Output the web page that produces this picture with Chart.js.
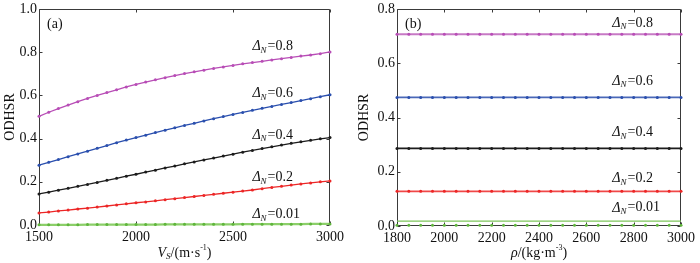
<!DOCTYPE html>
<html>
<head>
<meta charset="utf-8">
<script src="https://cdn.jsdelivr.net/npm/chart.js@4.4.1/dist/chart.umd.min.js"></script>
<style>
  html, body { margin: 0; padding: 0; background: #fff; }
  #wrap { position: relative; width: 700px; height: 263px; }
  canvas { position: absolute; top: 0; }
  #chartA { left: 0; }
  #chartB { left: 350px; }
</style>
</head>
<body>
<div id="wrap">
  <canvas id="chartA" width="350" height="263"></canvas>
  <canvas id="chartB" width="350" height="263"></canvas>
</div>
<script>
const FONT = "'Liberation Serif', 'Times New Roman', 'DejaVu Serif', serif";

// panel (a): ODHSR against S-wave velocity
const vs = [1500, 1550, 1600, 1650, 1700, 1750, 1800, 1850, 1900, 1950, 2000, 2050, 2100, 2150, 2200, 2250,
            2300, 2350, 2400, 2450, 2500, 2550, 2600, 2650, 2700, 2750, 2800, 2850, 2900, 2950, 3000];
const a08 = [0.503, 0.522, 0.539, 0.555, 0.571, 0.586, 0.600, 0.613, 0.626, 0.639, 0.651, 0.662, 0.672, 0.682, 0.692, 0.701,
             0.709, 0.717, 0.725, 0.732, 0.739, 0.746, 0.752, 0.758, 0.764, 0.770, 0.776, 0.782, 0.787, 0.793, 0.801];
const a06 = [0.277, 0.290, 0.303, 0.316, 0.329, 0.342, 0.355, 0.368, 0.381, 0.393, 0.405, 0.416, 0.428, 0.439, 0.450, 0.461,
             0.471, 0.482, 0.492, 0.502, 0.512, 0.521, 0.531, 0.540, 0.549, 0.558, 0.567, 0.576, 0.585, 0.594, 0.603];
const a04 = [0.144, 0.152, 0.161, 0.170, 0.179, 0.188, 0.197, 0.207, 0.216, 0.226, 0.235, 0.245, 0.254, 0.264, 0.273, 0.283,
             0.292, 0.301, 0.310, 0.319, 0.328, 0.337, 0.345, 0.354, 0.362, 0.370, 0.378, 0.385, 0.392, 0.399, 0.405];
const a02 = [0.056, 0.060, 0.065, 0.069, 0.074, 0.078, 0.083, 0.088, 0.093, 0.098, 0.103, 0.107, 0.112, 0.117, 0.122, 0.127,
             0.132, 0.137, 0.142, 0.147, 0.152, 0.157, 0.162, 0.168, 0.174, 0.179, 0.185, 0.190, 0.195, 0.200, 0.204];
const a001 = [0.001, 0.001, 0.001, 0.001, 0.001, 0.002, 0.002, 0.002, 0.002, 0.002, 0.002, 0.002, 0.002, 0.003, 0.003, 0.003,
              0.003, 0.003, 0.003, 0.003, 0.003, 0.004, 0.004, 0.004, 0.004, 0.004, 0.004, 0.004, 0.005, 0.005, 0.005];

// panel (b): ODHSR against density (flat lines)
const rho = [1800, 1850, 1900, 1950, 2000, 2050, 2100, 2150, 2200, 2250, 2300, 2350, 2400,
             2450, 2500, 2550, 2600, 2650, 2700, 2750, 2800, 2850, 2900, 2950, 3000];
const b08 = [0.707, 0.707, 0.707, 0.707, 0.707, 0.707, 0.707, 0.707, 0.707, 0.707, 0.707, 0.707, 0.707,
             0.707, 0.707, 0.707, 0.707, 0.707, 0.707, 0.707, 0.707, 0.707, 0.707, 0.707, 0.707];
const b06 = [0.474, 0.474, 0.474, 0.474, 0.474, 0.474, 0.474, 0.474, 0.474, 0.474, 0.474, 0.474, 0.474,
             0.474, 0.474, 0.474, 0.474, 0.474, 0.474, 0.474, 0.474, 0.474, 0.474, 0.474, 0.474];
const b04 = [0.286, 0.286, 0.286, 0.286, 0.286, 0.286, 0.286, 0.286, 0.286, 0.286, 0.286, 0.286, 0.286,
             0.286, 0.286, 0.286, 0.286, 0.286, 0.286, 0.286, 0.286, 0.286, 0.286, 0.286, 0.286];
const b02 = [0.128, 0.128, 0.128, 0.128, 0.128, 0.128, 0.128, 0.128, 0.128, 0.128, 0.128, 0.128, 0.128,
             0.128, 0.128, 0.128, 0.128, 0.128, 0.128, 0.128, 0.128, 0.128, 0.128, 0.128, 0.128];
const b001Line = [0.018, 0.018, 0.018, 0.018, 0.018, 0.018, 0.018, 0.018, 0.018, 0.018, 0.018, 0.018, 0.018,
                  0.018, 0.018, 0.018, 0.018, 0.018, 0.018, 0.018, 0.018, 0.018, 0.018, 0.018, 0.018];
const b001Marks = [0.003, 0.003, 0.003, 0.003, 0.003, 0.003, 0.003, 0.003, 0.003, 0.003, 0.003, 0.003, 0.003,
                   0.003, 0.003, 0.003, 0.003, 0.003, 0.003, 0.003, 0.003, 0.003, 0.003, 0.003, 0.003];

const deltaValues = ['0.8', '0.6', '0.4', '0.2', '0.01'];
const colors = ['#b84db6', '#2a4fae', '#1c1c1c', '#ec2626', '#5fb53c'];

function pts(xs, ys) {
    return xs.map((x, i) => ({ x: x, y: ys[i] }));
}

function series(xs, ys, color, extra) {
    return Object.assign({
        data: pts(xs, ys),
        borderColor: color,
        backgroundColor: color,
        borderWidth: 1.3,
        pointRadius: 1.5,
        pointBorderWidth: 0,
        pointHoverRadius: 0,
        tension: 0,
        clip: 4
    }, extra || {});
}

// frame with inward ticks on all four sides (drawn under the lines)
const framePlugin = {
    id: 'frame',
    beforeDatasetsDraw(chart) {
        const { ctx, chartArea: a, scales: { x, y } } = chart;
        const L = Math.round(a.left) + 0.5, R = Math.round(a.right) - 0.5;
        const T = Math.round(a.top) + 0.5, B = Math.round(a.bottom) - 0.5;
        ctx.save();
        ctx.strokeStyle = '#3a3a3a';
        ctx.lineWidth = 1;
        ctx.beginPath();
        ctx.rect(L, T, R - L, B - T);
        x.ticks.forEach(t => {
            const p = Math.round(x.getPixelForValue(t.value)) + 0.5;
            ctx.moveTo(p, B); ctx.lineTo(p, B - 3);
            ctx.moveTo(p, T); ctx.lineTo(p, T + 3);
        });
        y.ticks.forEach(t => {
            const p = Math.round(y.getPixelForValue(t.value)) + 0.5;
            ctx.moveTo(L, p); ctx.lineTo(L + 3, p);
            ctx.moveTo(R, p); ctx.lineTo(R - 3, p);
        });
        ctx.stroke();
        ctx.restore();
    }
};

function drawParts(ctx, parts, cx, cy) {
    let total = 0;
    parts.forEach(p => {
        ctx.font = (p.it ? 'italic ' : '') + p.size + 'px ' + FONT;
        p.w = ctx.measureText(p.t).width;
        total += p.w;
    });
    let x = cx - total / 2;
    ctx.textAlign = 'left';
    ctx.textBaseline = 'middle';
    parts.forEach(p => {
        ctx.font = (p.it ? 'italic ' : '') + p.size + 'px ' + FONT;
        ctx.fillText(p.t, x, cy + (p.dy || 0));
        x += p.w;
    });
}

// panel letter, ΔN labels and the x-axis title
const notesPlugin = {
    id: 'notes',
    afterDraw(chart, args, opts) {
        const { ctx, chartArea: a, scales: { x, y } } = chart;
        ctx.save();
        ctx.fillStyle = '#111';
        ctx.textBaseline = 'middle';
        ctx.textAlign = 'left';
        ctx.font = '14px ' + FONT;
        ctx.fillText(opts.letter, a.left + 8, a.top + 15);

        deltaValues.forEach((v, i) => {
            const px = x.getPixelForValue(opts.labelX);
            const py = y.getPixelForValue(opts.labelY[i]);
            ctx.font = 'italic 14px ' + FONT;
            ctx.fillText('Δ', px, py);
            let w = ctx.measureText('Δ').width;
            ctx.font = 'italic 9px ' + FONT;
            ctx.fillText('N', px + w, py + 4);
            w += ctx.measureText('N').width + 1;
            ctx.font = '14px ' + FONT;
            ctx.fillText('=' + v, px + w, py);
        });

        drawParts(ctx, opts.xTitle, (a.left + a.right) / 2, 253);
        ctx.restore();
    }
};

function makeChart(id, datasets, xs, ys, notes) {
    return new Chart(document.getElementById(id), {
        type: 'line',
        data: { datasets: datasets },
        plugins: [framePlugin, notesPlugin],
        options: {
            responsive: false,
            animation: false,
            devicePixelRatio: 1,
            layout: { padding: notes.padding },
            plugins: { legend: { display: false }, tooltip: { enabled: false }, notes: notes },
            scales: {
                x: {
                    type: 'linear',
                    min: xs.min, max: xs.max,
                    grid: { display: false, drawTicks: false },
                    border: { display: false },
                    ticks: { stepSize: xs.step, padding: 5, maxRotation: 0, color: '#111',
                             font: { family: FONT, size: 14, lineHeight: 1 },
                             callback: v => String(v) },
                    afterFit: s => { s.height = notes.xHeight; }
                },
                y: {
                    min: 0, max: ys.max,
                    grid: { display: false, drawTicks: false },
                    border: { display: false },
                    ticks: { stepSize: 0.2, padding: 2, color: '#111',
                             font: { family: FONT, size: 14, lineHeight: 1 },
                             callback: v => v.toFixed(1) },
                    title: { display: true, text: 'ODHSR', color: '#111',
                             font: { family: FONT, size: 14 }, padding: { top: notes.titlePad, bottom: 0 } },
                    afterFit: s => { s.width = notes.yWidth; }
                }
            }
        }
    });
}

function build() {
    makeChart('chartA', [
        series(vs, a08, colors[0]),
        series(vs, a06, colors[1]),
        series(vs, a04, colors[2]),
        series(vs, a02, colors[3]),
        series(vs, a001, '#8ccf6a', { borderWidth: 2.2, pointBackgroundColor: colors[4] })
    ], { min: 1500, max: 3000, step: 500 }, { max: 1.0 }, {
        letter: '(a)',
        labelX: 2600,
        labelY: [0.826, 0.61, 0.417, 0.22, 0.05],
        padding: { top: 7, right: 20, left: 0, bottom: 0 },
        xHeight: 38, yWidth: 39, titlePad: 2,
        xTitle: [
            { t: 'V', it: true, size: 14 },
            { t: 'S', it: true, size: 9, dy: 4 },
            { t: '/(m·s', size: 14 },
            { t: '-1', size: 8, dy: -5 },
            { t: ')', size: 14 }
        ]
    });

    makeChart('chartB', [
        series(rho, b08, colors[0], { borderColor: '#c77ac5', borderWidth: 1.8 }),
        series(rho, b06, colors[1], { borderColor: '#4a68b8', borderWidth: 1.8 }),
        series(rho, b04, colors[2], { borderWidth: 1.6 }),
        series(rho, b02, colors[3], { borderColor: '#f04848', borderWidth: 1.8 }),
        series(rho, b001Line, '#7cc45a', { pointRadius: 0 }),
        series(rho, b001Marks, colors[4], { showLine: false })
    ], { min: 1800, max: 3000, step: 200 }, { max: 0.8 }, {
        letter: '(b)',
        labelX: 2710,
        labelY: [0.749, 0.535, 0.346, 0.175, 0.067],
        padding: { top: 9, right: 13, left: 0, bottom: 0 },
        xHeight: 37, yWidth: 47, titlePad: 6,
        xTitle: [
            { t: 'ρ', it: true, size: 14 },
            { t: '/(kg·m', size: 14 },
            { t: '-3', size: 8, dy: -5 },
            { t: ')', size: 14 }
        ]
    });
}

Promise.all([
    document.fonts.load("14px 'Liberation Serif'"),
    document.fonts.load("italic 14px 'Liberation Serif'")
]).then(build, build);
</script>
</body>
</html>
